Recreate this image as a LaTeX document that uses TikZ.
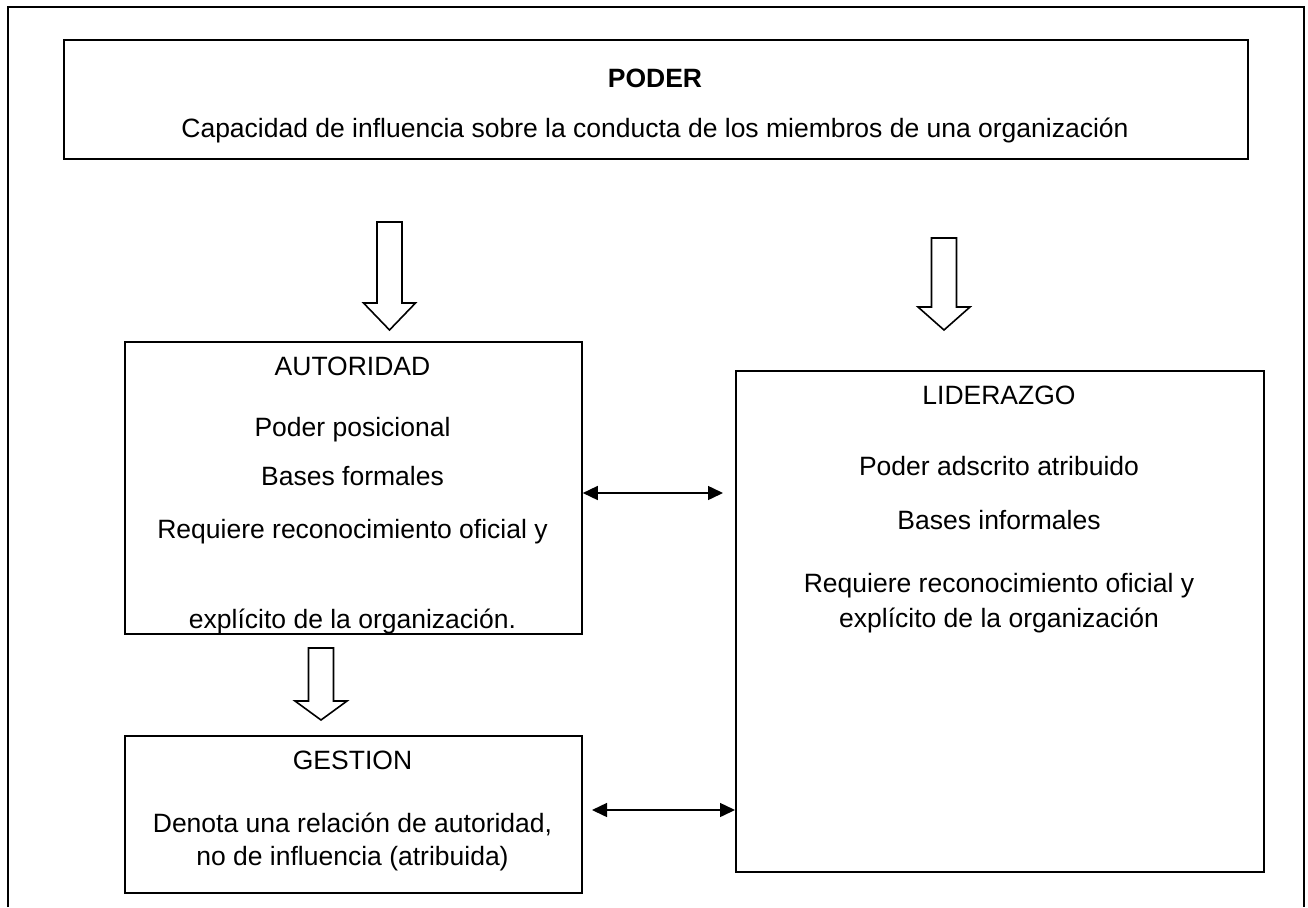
\documentclass[tikz,border=0pt]{standalone}
\usepackage{fontspec}
\setmainfont{Liberation Sans}
\usetikzlibrary{arrows.meta}
% flecha hueca hacia abajo: x, y arriba, y base de la punta, y punta
\newcommand{\flechahueca}[4]{%
  \draw[flecha] (#1-12.5,#2) -- (#1+12.5,#2) -- (#1+12.5,#3) -- (#1+26,#3)
    -- (#1,#4) -- (#1-26,#3) -- (#1-12.5,#3) -- cycle;}
\begin{document}
\begin{tikzpicture}[x=1pt,y=-1pt]
        \tikzstyle{caja}=[draw=black,line width=1.8pt,inner sep=0pt,anchor=north west]
        \tikzstyle{texto}=[anchor=base,inner sep=0pt,font=\fontsize{26.5}{30}\selectfont]
        \tikzstyle{flecha}=[draw=black,line width=1.6pt,fill=white,line join=miter]
        \tikzstyle{doble}=[draw,line width=1.5pt,{Triangle[length=15pt,width=14pt]}-{Triangle[length=15pt,width=14pt]}]
       \useasboundingbox (0,0) rectangle (1308,907);
       % marco
       \draw[line width=1.8pt] (8,907) -- (8,7) -- (1304,7) -- (1304,907);

       % poder
       \node [caja,minimum width=1184pt,minimum height=119pt] (poder) at (63,39) {};
       \node [texto] (poder1) at (655,88) {\bfseries PODER};
       \node [texto] (poder2) at (655,137) {Capacidad de influencia sobre la conducta de los miembros de una organización};

       % autoridad
       \node [texto] (aut1) at (352.5,375) {AUTORIDAD};
       \node [texto] (aut2) at (352.5,436) {Poder posicional};
       \node [texto] (aut3) at (352.5,485) {Bases formales};
       \node [texto] (aut4) at (352.5,538) {Requiere reconocimiento oficial y};
       \node [texto] (aut5) at (352.5,628) {explícito de la organización.};
       \node [caja,minimum width=457pt,minimum height=292pt] (autoridad) at (124,341) {};

       % liderazgo
       \node [caja,minimum width=528pt,minimum height=501pt] (liderazgo) at (735,370) {};
       \node [texto] (lid1) at (999,404) {LIDERAZGO};
       \node [texto] (lid2) at (999,475) {Poder adscrito atribuido};
       \node [texto] (lid3) at (999,529) {Bases informales};
       \node [texto] (lid4) at (999,592) {Requiere reconocimiento oficial y};
       \node [texto] (lid5) at (999,627) {explícito de la organización};

       % gestion
       \node [caja,minimum width=457pt,minimum height=157pt] (gestion) at (124,735) {};
       \node [texto] (ges1) at (352.5,769) {GESTION};
       \node [texto] (ges2) at (352.5,832) {Denota una relación de autoridad,};
       \node [texto] (ges3) at (352.5,865) {no de influencia (atribuida)};

       % flechas
       \flechahueca{389.5}{222}{303}{330}
       \flechahueca{944}{238}{307}{330}
       \flechahueca{321}{648}{701}{720}

       \coordinate (d1) at (723,493);
       \coordinate (d2) at (592,810);
       \path[doble] (autoridad.east |- d1) -- (d1);
       \path[doble] (d2) -- (liderazgo.west |- d2);
\end{tikzpicture}
\end{document}
